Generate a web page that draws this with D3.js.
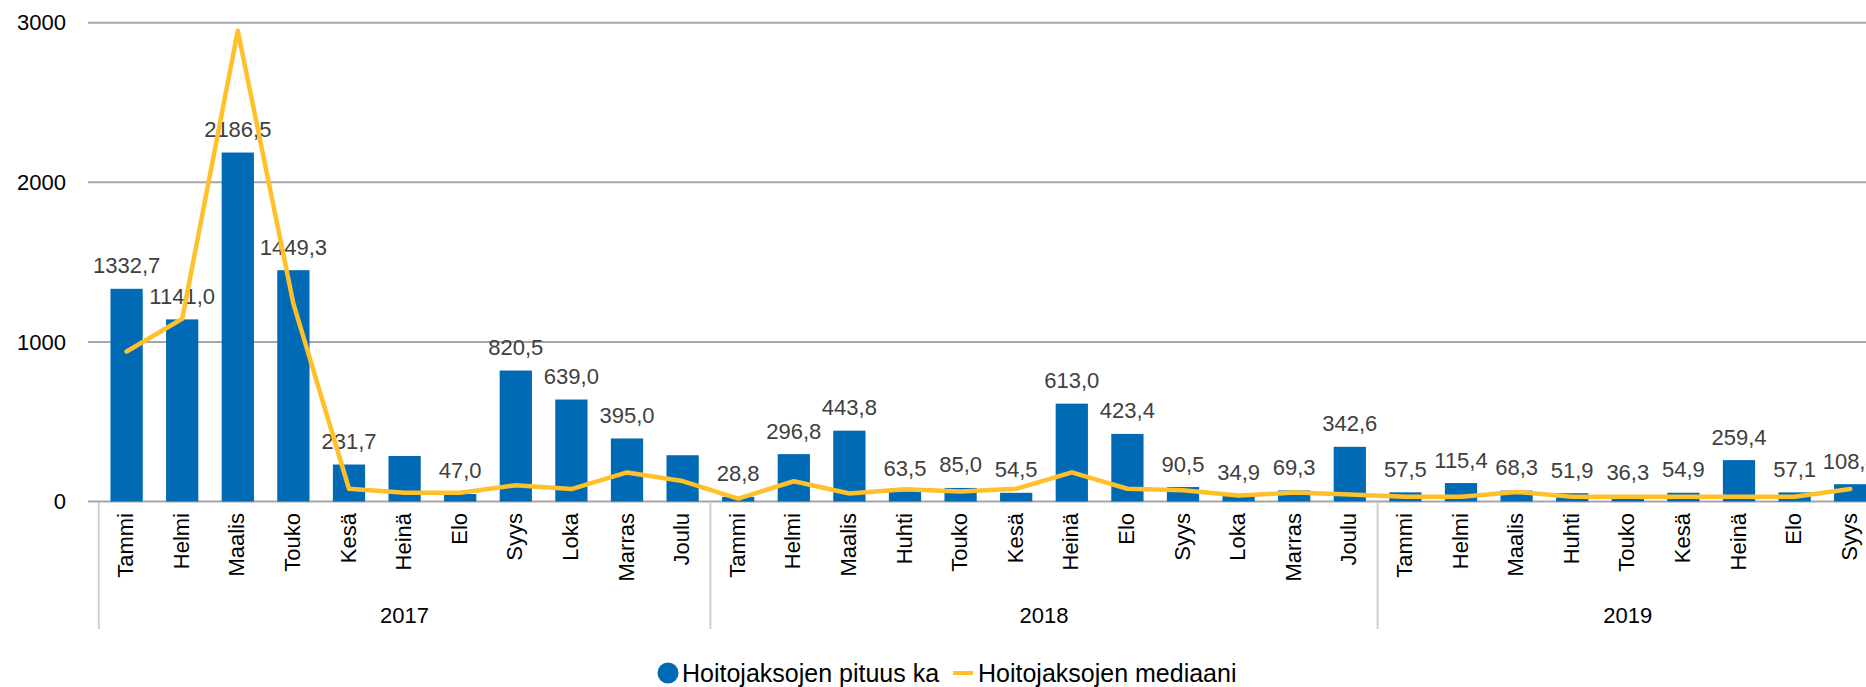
<!DOCTYPE html>
<html lang="fi">
<head>
<meta charset="utf-8">
<script src="https://cdn.jsdelivr.net/npm/d3@7/dist/d3.min.js"></script>
<style>
  html, body { margin: 0; padding: 0; background: #ffffff; }
  svg { display: block; font-family: "Liberation Sans", Arial, sans-serif; }
</style>
</head>
<body>
<svg id="chart" width="1866" height="687"></svg>
<script>
// Months per year (2017 has no April entry)
const years = ["2017", "2018", "2019"];
const monthsByYear = [
  ["Tammi", "Helmi", "Maalis", "Touko", "Kesä", "Heinä", "Elo", "Syys", "Loka", "Marras", "Joulu"],
  ["Tammi", "Helmi", "Maalis", "Huhti", "Touko", "Kesä", "Heinä", "Elo", "Syys", "Loka", "Marras", "Joulu"],
  ["Tammi", "Helmi", "Maalis", "Huhti", "Touko", "Kesä", "Heinä", "Elo", "Syys"]
];

// Hoitojaksojen pituus ka (bars)
const meanLength = [
  1332.7, 1141.0, 2186.5, 1449.3, 231.7, 285.0, 47.0, 820.5, 639.0, 395.0, 290.0,
  28.8, 296.8, 443.8, 63.5, 85.0, 54.5, 613.0, 423.4, 90.5, 34.9, 69.3, 342.6,
  57.5, 115.4, 68.3, 51.9, 36.3, 54.9, 259.4, 57.1, 108.4
];
// Bars whose value label is not printed
const unlabeled = [5, 10];

// Hoitojaksojen mediaani (line)
const medianLength = [
  940, 1145, 2950, 1240, 80, 55, 55, 102, 78, 182, 128,
  18, 127, 50, 77, 63, 80, 182, 80, 71, 37, 56, 44,
  30, 30, 60, 30, 30, 30, 30, 30, 78
];

const yTicks = [0, 1000, 2000, 3000];
const seriesNames = ["Hoitojaksojen pituus ka", "Hoitojaksojen mediaani"];

const barColor = "#006AB4";
const lineColor = "#FFC02A";
const gridColor = "#A6A6A6";

// Flatten categories into unique keys
const cats = [];
monthsByYear.forEach((ms, yi) => ms.forEach(m => cats.push({ key: years[yi] + "-" + m, month: m, year: years[yi] })));

const svg = d3.select("#chart");

const plotLeft = 98.8, step = 55.6;
const x = d3.scaleBand()
  .domain(cats.map(c => c.key))
  .range([plotLeft, plotLeft + step * cats.length])
  .paddingInner(0.42)
  .paddingOuter(0.21);

const y = d3.scaleLinear().domain([0, 3000]).range([501.5, 22.7]);

const fmt = d3.formatLocale({ decimal: ",", thousands: "", grouping: [3], currency: ["", "€"] }).format(".1f");

// Horizontal gridlines (including the zero line)
svg.append("g").selectAll("line").data(yTicks).join("line")
  .attr("x1", 88).attr("x2", 1866)
  .attr("y1", d => y(d)).attr("y2", d => y(d))
  .attr("stroke", gridColor).attr("stroke-width", 2);

// Y tick labels
svg.append("g").selectAll("text").data(yTicks).join("text")
  .attr("x", 66).attr("y", d => y(d)).attr("dy", "0.35em")
  .attr("text-anchor", "end")
  .attr("font-size", 22).attr("fill", "#000")
  .text(d => d);

// Bars
svg.append("g").selectAll("rect").data(cats).join("rect")
  .attr("x", d => x(d.key))
  .attr("width", x.bandwidth())
  .attr("y", (d, i) => y(meanLength[i]))
  .attr("height", (d, i) => y(0) - y(meanLength[i]))
  .attr("fill", barColor);

// Bar value labels
svg.append("g").selectAll("text").data(cats).join("text")
  .filter((d, i) => !unlabeled.includes(i))
  .attr("x", d => x(d.key) + x.bandwidth() / 2)
  .attr("y", d => y(meanLength[cats.indexOf(d)]) - 15.5)
  .attr("text-anchor", "middle")
  .attr("font-size", 22).attr("fill", "#404040")
  .text(d => fmt(meanLength[cats.indexOf(d)]));

// Median line
const line = d3.line()
  .x((d, i) => x(cats[i].key) + x.bandwidth() / 2)
  .y(d => y(d));
svg.append("path").datum(medianLength)
  .attr("d", line)
  .attr("fill", "none")
  .attr("stroke", lineColor).attr("stroke-width", 4.5)
  .attr("stroke-linejoin", "round").attr("stroke-linecap", "round");

// Month labels (rotated)
svg.append("g").selectAll("text").data(cats).join("text")
  .attr("transform", d => `translate(${x(d.key) + x.bandwidth() / 2},513) rotate(-90)`)
  .attr("dy", "0.3em")
  .attr("text-anchor", "end")
  .attr("font-size", 22).attr("fill", "#000")
  .text(d => d.month);

// Year group separators and labels
let offset = 0;
const groups = monthsByYear.map((ms, yi) => {
  const g = { year: years[yi], start: plotLeft + offset * step, end: plotLeft + (offset + ms.length) * step };
  offset += ms.length;
  return g;
});
const sepX = [groups[0].start].concat(groups.map(g => g.end));
svg.append("g").selectAll("line").data(sepX).join("line")
  .attr("x1", d => d).attr("x2", d => d)
  .attr("y1", 503).attr("y2", 629)
  .attr("stroke", "#D0D0D0").attr("stroke-width", 2);

svg.append("g").selectAll("text").data(groups).join("text")
  .attr("x", d => (d.start + d.end) / 2)
  .attr("y", 623)
  .attr("text-anchor", "middle")
  .attr("font-size", 22).attr("fill", "#000")
  .text(d => d.year);

// Legend
const legend = svg.append("g").attr("font-size", 25).attr("fill", "#000");
legend.append("circle").attr("cx", 668).attr("cy", 673).attr("r", 10.5).attr("fill", barColor);
legend.append("text").attr("x", 682).attr("y", 681.5).text(seriesNames[0]);
legend.append("line").attr("x1", 953).attr("x2", 973).attr("y1", 673).attr("y2", 673)
  .attr("stroke", lineColor).attr("stroke-width", 4);
legend.append("text").attr("x", 978).attr("y", 681.5).text(seriesNames[1]);
</script>
</body>
</html>
